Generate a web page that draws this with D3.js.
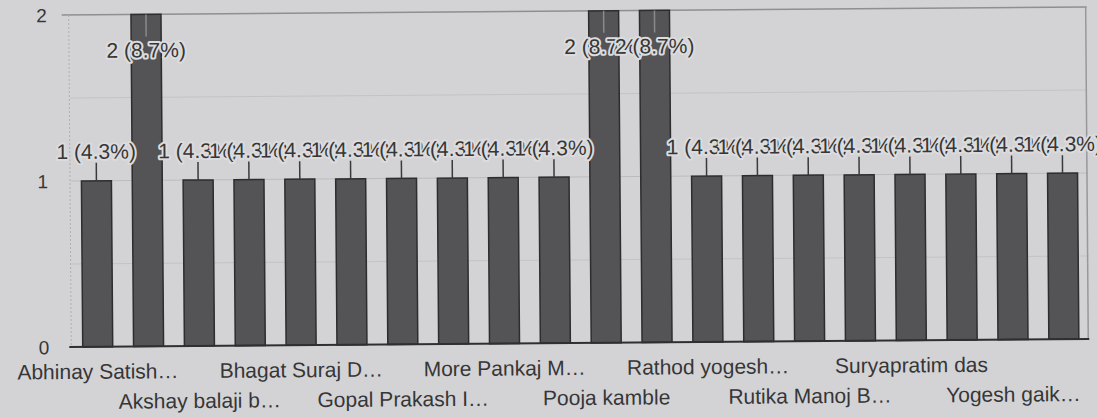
<!DOCTYPE html>
<html>
<head>
<meta charset="utf-8">
<script src="https://cdn.jsdelivr.net/npm/d3@7"></script>
<style>
  html, body { margin: 0; padding: 0; background: #d3d3d6; overflow: hidden; }
  svg { display: block; }
  text { font-family: "Liberation Sans", Arial, sans-serif; fill: #363636; }
</style>
</head>
<body>
<svg id="chart" width="1097" height="418"></svg>
<script>
// Responses per person (count of answers)
const responses = [1, 2, 1, 1, 1, 1, 1, 1, 1, 1, 2, 2, 1, 1, 1, 1, 1, 1, 1, 1];
// Axis labels: every other category is shown, as in the original form summary
const tickLabels = [
  "Abhinay Satish…", "", "Akshay balaji b…", "", "Bhagat Suraj D…", "",
  "Gopal Prakash I…", "", "More Pankaj M…", "", "Pooja kamble", "",
  "Rathod yogesh…", "", "Rutika Manoj B…", "", "Suryapratim das", "",
  "Yogesh gaik…", ""
];
const yTicks = [0, 1, 2];
const minorTicks = [0.5, 1.5];

const W = 1097, H = 418;
const plot = { left: 71, right: 1088, top: 11, bottom: 343 };
const total = d3.sum(responses);
const pct = d3.format(".1%");

const svg = d3.select("#chart");
svg.append("rect").attr("width", W).attr("height", H).attr("fill", "#d3d3d6");

// whole sheet sits slightly tilted
const g = svg.append("g").attr("transform", "rotate(-0.45 580 180)");

const x = d3.scaleBand()
  .domain(d3.range(responses.length))
  .range([plot.left, plot.right])
  .paddingInner(0.41)
  .paddingOuter(0.205);

const y = d3.scaleLinear().domain([0, 2]).range([plot.bottom, plot.top]);

// gridlines
g.append("g").selectAll("line").data(minorTicks).join("line")
  .attr("x1", plot.left).attr("x2", plot.right)
  .attr("y1", d => y(d)).attr("y2", d => y(d))
  .attr("stroke", "#c3c3c6").attr("stroke-width", 1);
g.append("line")
  .attr("x1", plot.left).attr("x2", plot.right)
  .attr("y1", y(1)).attr("y2", y(1))
  .attr("stroke", "#bcbcbf").attr("stroke-width", 1);
g.append("line")
  .attr("x1", plot.left - 8).attr("x2", plot.right)
  .attr("y1", y(2)).attr("y2", y(2))
  .attr("stroke", "#8f8f92").attr("stroke-width", 1.5);
// frame sides
g.append("line")
  .attr("x1", plot.right - 1).attr("x2", plot.right - 1)
  .attr("y1", y(2)).attr("y2", y(0))
  .attr("stroke", "#98989b").attr("stroke-width", 1.5);
g.append("line")
  .attr("x1", plot.left - 1).attr("x2", plot.left - 1)
  .attr("y1", y(2)).attr("y2", y(0))
  .attr("stroke", "#b0b0b3").attr("stroke-width", 1)
  .attr("stroke-dasharray", "2,2");

// bars
g.append("g").selectAll("rect").data(responses).join("rect")
  .attr("x", (d, i) => x(i))
  .attr("width", x.bandwidth())
  .attr("y", d => y(d))
  .attr("height", d => y(0) - y(d))
  .attr("fill", "#545456")
  .attr("stroke", "#2d2d2e")
  .attr("stroke-width", 1.5);

// baseline
g.append("line")
  .attr("x1", plot.left - 3).attr("x2", plot.right)
  .attr("y1", y(0)).attr("y2", y(0))
  .attr("stroke", "#2f2f30").attr("stroke-width", 2);

// y axis labels
const yAxis = d3.axisLeft(y).tickValues(yTicks).tickSize(0).tickPadding(0).tickFormat(d3.format("d"));
const ya = g.append("g").attr("transform", `translate(${plot.left - 23},0)`).call(yAxis);
ya.select(".domain").remove();
ya.selectAll("text")
  .attr("dy", null)
  .attr("dominant-baseline", "central")
  .style("font-size", "19px")
  .style("font-family", '"Liberation Sans", Arial, sans-serif')
  .attr("fill", "#363636");

// x axis labels, staggered in two rows
const xAxis = d3.axisBottom(x).tickSize(0).tickFormat(i => tickLabels[i]);
const xa = g.append("g").attr("transform", `translate(0,${plot.bottom})`).call(xAxis);
xa.select(".domain").remove();
let shown = 0;
xa.selectAll(".tick text").each(function (i) {
  const t = d3.select(this);
  if (!tickLabels[i]) { t.remove(); return; }
  const row = shown % 2;
  shown++;
  t.attr("dy", null).attr("y", row === 0 ? 32 : 62);
});
xa.selectAll("text")
  .style("font-size", "21px")
  .style("font-family", '"Liberation Sans", Arial, sans-serif')
  .attr("fill", "#363636");

// value annotations: stems, then text with halo (later labels paint over earlier ones)
const maxVal = d3.max(responses);
const inside = d => d === maxVal;

g.append("g").selectAll("line").data(responses).join("line")
  .attr("x1", (d, i) => x(i) + x.bandwidth() / 2)
  .attr("x2", (d, i) => x(i) + x.bandwidth() / 2)
  .attr("y1", d => y(d))
  .attr("y2", d => inside(d) ? y(d) + 22 : y(d) - 18)
  .attr("stroke", d => inside(d) ? "#8a8a8c" : "#3a3a3a")
  .attr("stroke-width", 1.5);

const ann = g.append("g");
responses.forEach((d, i) => {
  ann.append("text")
    .attr("x", x(i) + x.bandwidth() / 2)
    .attr("y", inside(d) ? y(d) + 43 : y(d) - 22)
    .attr("text-anchor", "middle")
    .style("font-size", "21px")
    .attr("fill", "#363636")
    .attr("stroke", "#dcdcde")
    .attr("stroke-width", 4)
    .attr("stroke-linejoin", "round")
    .attr("paint-order", "stroke")
    .text(`${d} (${pct(d / total)})`);
});
</script>
</body>
</html>
